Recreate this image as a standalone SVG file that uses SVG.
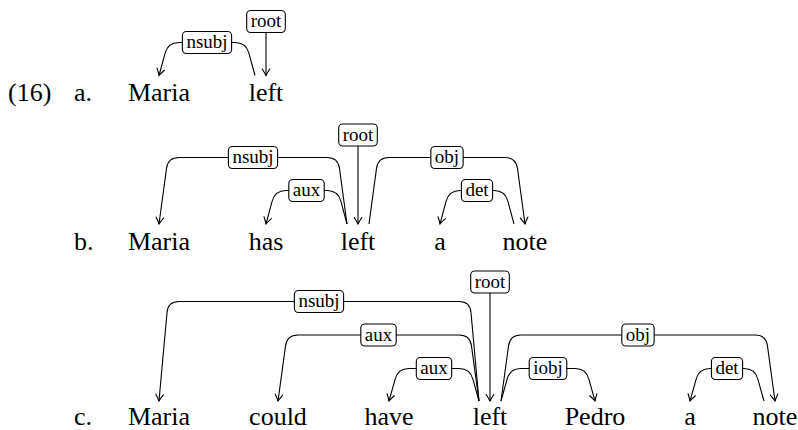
<svg xmlns="http://www.w3.org/2000/svg" width="798" height="430" viewBox="0 0 798 430">
<defs>
<marker id="arr" markerUnits="userSpaceOnUse" markerWidth="12" markerHeight="12" refX="0" refY="0" orient="auto" overflow="visible">
<path d="M-6.5,-3.8 Q-2.2,-1 0,0 Q-2.2,1 -6.5,3.8" fill="none" stroke="#000" stroke-width="1.1" stroke-linecap="round"/>
</marker>
</defs>
<rect width="798" height="430" fill="#fff"/>

<g id="numbers">
<text style="font-family:'Liberation Serif'" font-size="26" x="8" y="101">(16)</text>
<text style="font-family:'Liberation Serif'" font-size="26" x="74" y="101">a.</text>
<text style="font-family:'Liberation Serif'" font-size="26" x="74" y="250">b.</text>
<text style="font-family:'Liberation Serif'" font-size="26" x="74" y="425">c.</text>
</g>

<g id="row-a">
<g id="a-Maria"><text style="font-family:'Liberation Serif'" font-size="26" text-anchor="middle" x="159" y="101">Maria</text></g>
<g id="a-left"><text style="font-family:'Liberation Serif'" font-size="26" text-anchor="middle" x="266" y="101">left</text></g>
</g>

<g id="row-b">
<g id="b-Maria"><text style="font-family:'Liberation Serif'" font-size="26" text-anchor="middle" x="159" y="250">Maria</text></g>
<g id="b-has"><text style="font-family:'Liberation Serif'" font-size="26" text-anchor="middle" x="266" y="250">has</text></g>
<g id="b-left"><text style="font-family:'Liberation Serif'" font-size="26" text-anchor="middle" x="358" y="250">left</text></g>
<g id="b-a"><text style="font-family:'Liberation Serif'" font-size="26" text-anchor="middle" x="440" y="250">a</text></g>
<g id="b-note"><text style="font-family:'Liberation Serif'" font-size="26" text-anchor="middle" x="525" y="250">note</text></g>
</g>

<g id="row-c">
<g id="c-Maria"><text style="font-family:'Liberation Serif'" font-size="26" text-anchor="middle" x="159" y="425">Maria</text></g>
<g id="c-could"><text style="font-family:'Liberation Serif'" font-size="26" text-anchor="middle" x="278" y="425">could</text></g>
<g id="c-have"><text style="font-family:'Liberation Serif'" font-size="26" text-anchor="middle" x="389" y="425">have</text></g>
<g id="c-left"><text style="font-family:'Liberation Serif'" font-size="26" text-anchor="middle" x="490" y="425">left</text></g>
<g id="c-Pedro"><text style="font-family:'Liberation Serif'" font-size="26" text-anchor="middle" x="595" y="425">Pedro</text></g>
<g id="c-a"><text style="font-family:'Liberation Serif'" font-size="26" text-anchor="middle" x="690" y="425">a</text></g>
<g id="c-note"><text style="font-family:'Liberation Serif'" font-size="26" text-anchor="middle" x="775" y="425">note</text></g>
</g>

<g id="connectors">
<g fill="none" stroke="#000" stroke-width="1.1" marker-end="url(#arr)">
<path d="M255 75.5 L248.85 53.1 Q246 42.5 235 42.5 L179 42.5 Q168 42.5 165.15 53.1 L159 75.5"/>
<path d="M266 32.5 L266 75.5"/>
<path d="M347 224 L339.48 168.4 Q338 157.5 327 157.5 L179 157.5 Q168 157.5 166.52 168.4 L159 224"/>
<path d="M347 224 L340.85 201.1 Q338 190.5 327 190.5 L286 190.5 Q275 190.5 272.15 201.1 L266 224"/>
<path d="M358 146 L358 224"/>
<path d="M369 224 L376.52 168.4 Q378 157.5 389 157.5 L505 157.5 Q516 157.5 517.48 168.4 L525 224"/>
<path d="M514 224 L507.85 201.1 Q505 190.5 494 190.5 L460 190.5 Q449 190.5 446.15 201.1 L440 224"/>
<path d="M479 401 L470.98 312.46 Q470 301.5 459 301.5 L179 301.5 Q168 301.5 167.02 312.46 L159 401"/>
<path d="M479 401 L471.46 345.9 Q470 335 459 335 L298 335 Q287 335 285.54 345.9 L278 401"/>
<path d="M479 401 L472.85 379.12 Q470 368.5 459 368.5 L409 368.5 Q398 368.5 395.15 379.12 L389 401"/>
<path d="M490 293 L490 401"/>
<path d="M501 401 L508.54 345.9 Q510 335 521 335 L755 335 Q766 335 767.46 345.9 L775 401"/>
<path d="M501 401 L507.15 379.12 Q510 368.5 521 368.5 L575 368.5 Q586 368.5 588.85 379.12 L595 401"/>
<path d="M764 401 L757.85 379.12 Q755 368.5 744 368.5 L710 368.5 Q699 368.5 696.15 379.12 L690 401"/>
</g>

<g fill="#fff" stroke="#000" stroke-width="1.1">
<rect x="182.4" y="31.5" width="49.2" height="22" rx="4"/>
<rect x="246.7" y="10.5" width="38.6" height="22" rx="4"/>
<rect x="228.4" y="146.5" width="49.2" height="22" rx="4"/>
<rect x="288.8" y="179.5" width="35.4" height="22" rx="4"/>
<rect x="338.7" y="124" width="38.6" height="22" rx="4"/>
<rect x="430.85" y="146.5" width="32.3" height="22" rx="4"/>
<rect x="461.4" y="179.5" width="31.2" height="22" rx="4"/>
<rect x="294.4" y="290.5" width="49.2" height="22" rx="4"/>
<rect x="360.8" y="324" width="35.4" height="22" rx="4"/>
<rect x="416.3" y="357.5" width="35.4" height="22" rx="4"/>
<rect x="470.7" y="271" width="38.6" height="22" rx="4"/>
<rect x="621.85" y="324" width="32.3" height="22" rx="4"/>
<rect x="529.2" y="357.5" width="37.6" height="22" rx="4"/>
<rect x="711.4" y="357.5" width="31.2" height="22" rx="4"/>
</g>
<g>
<text style="font-family:'Liberation Serif'" font-size="19" text-anchor="middle" x="207" y="48">nsubj</text>
<text style="font-family:'Liberation Serif'" font-size="19" text-anchor="middle" x="266" y="27">root</text>
<text style="font-family:'Liberation Serif'" font-size="19" text-anchor="middle" x="253" y="163">nsubj</text>
<text style="font-family:'Liberation Serif'" font-size="19" text-anchor="middle" x="306.5" y="196">aux</text>
<text style="font-family:'Liberation Serif'" font-size="19" text-anchor="middle" x="358" y="140.5">root</text>
<text style="font-family:'Liberation Serif'" font-size="19" text-anchor="middle" x="447" y="163">obj</text>
<text style="font-family:'Liberation Serif'" font-size="19" text-anchor="middle" x="477" y="196">det</text>
<text style="font-family:'Liberation Serif'" font-size="19" text-anchor="middle" x="319" y="307">nsubj</text>
<text style="font-family:'Liberation Serif'" font-size="19" text-anchor="middle" x="378.5" y="340.5">aux</text>
<text style="font-family:'Liberation Serif'" font-size="19" text-anchor="middle" x="434" y="374">aux</text>
<text style="font-family:'Liberation Serif'" font-size="19" text-anchor="middle" x="490" y="287.5">root</text>
<text style="font-family:'Liberation Serif'" font-size="19" text-anchor="middle" x="638" y="340.5">obj</text>
<text style="font-family:'Liberation Serif'" font-size="19" text-anchor="middle" x="548" y="374">iobj</text>
<text style="font-family:'Liberation Serif'" font-size="19" text-anchor="middle" x="727" y="374">det</text>
</g>
</g>
</svg>
